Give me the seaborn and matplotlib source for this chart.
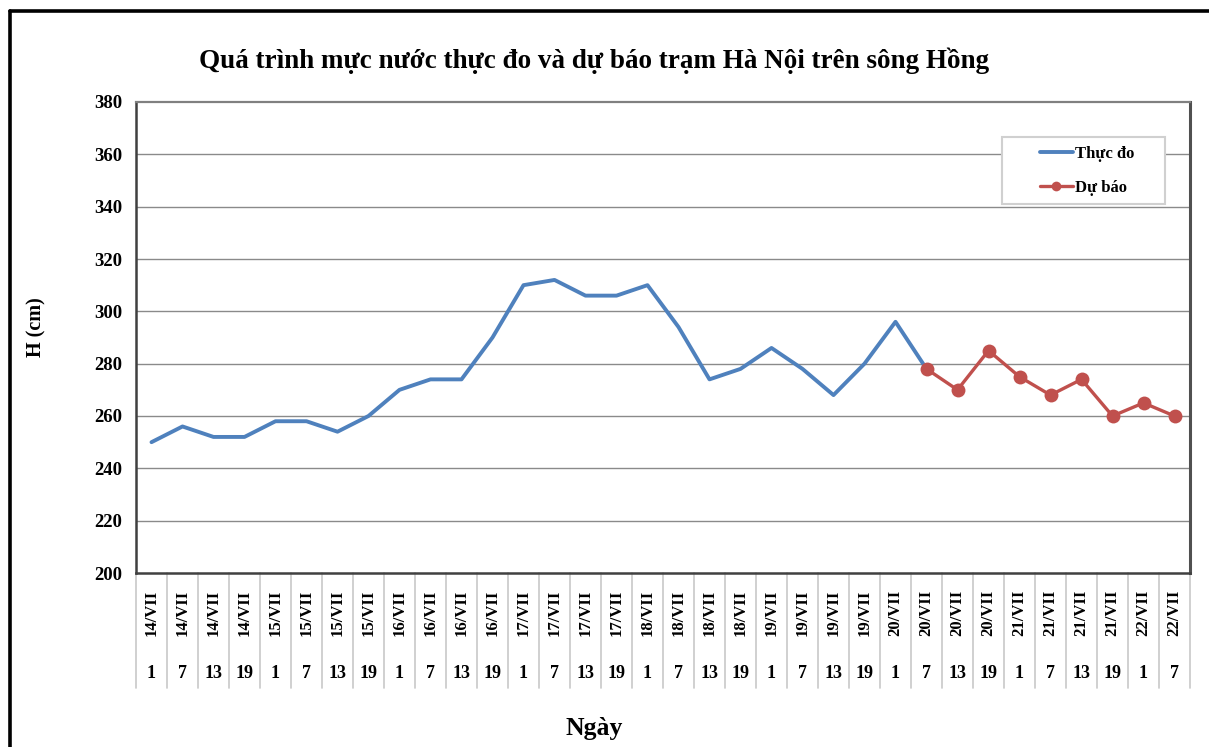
import matplotlib
matplotlib.use("Agg")
import matplotlib.pyplot as plt
import matplotlib.transforms as mtransforms
from matplotlib.lines import Line2D
from matplotlib.patches import Rectangle
import seaborn as sns
import pandas as pd
import numpy as np

# ---- data ----
days = ["14/VII"] * 4 + ["15/VII"] * 4 + ["16/VII"] * 4 + ["17/VII"] * 4 + \
       ["18/VII"] * 4 + ["19/VII"] * 4 + ["20/VII"] * 4 + ["21/VII"] * 4 + ["22/VII"] * 2
hours = ["1", "7", "13", "19"] * 8 + ["1", "7"]
observed = [250, 256, 252, 252, 258, 258, 254, 260, 270, 274, 274, 290,
            310, 312, 306, 306, 310, 294, 274, 278, 286, 278, 268, 280,
            296, 278]
forecast = [278, 270, 285, 275, 268, 274, 260, 265, 260]
forecast_start = 25

title = "Quá trình mực nước thực đo và dự báo trạm Hà Nội trên sông Hồng"
ylabel = "H (cm)"
xlabel = "Ngày"
yticks = list(range(200, 381, 20))

sns.set_theme(style="white")
plt.rcParams["font.family"] = ["Liberation Serif", "DejaVu Serif"]
plt.rcParams["font.weight"] = "bold"
plt.rcParams["text.color"] = "black"
plt.rcParams["ytick.color"] = "black"

W, H = 1209, 747
fig = plt.figure(figsize=(W / 100, H / 100), dpi=100)
fig.patch.set_facecolor("white")
L, R, T, B = 136, 1190, 102, 573
ax = fig.add_axes([L / W, 1 - B / H, (R - L) / W, (B - T) / H])

df_obs = pd.DataFrame({"x": np.arange(len(observed)), "y": observed})
df_fc = pd.DataFrame({"x": np.arange(forecast_start, forecast_start + len(forecast)), "y": forecast})

blue = "#4F81BD"
red = "#C0504D"
sns.lineplot(data=df_obs, x="x", y="y", ax=ax, color=blue, lw=2.8, zorder=3)
sns.lineplot(data=df_fc, x="x", y="y", ax=ax, color=red, lw=2.4, marker="o",
             markersize=10, markeredgewidth=0, zorder=4)

n = len(days)
ax.set_xlim(-0.5, n - 0.5)
ax.set_ylim(200, 380)
ax.set_yticks(yticks)
ax.set_yticklabels([str(v) for v in yticks], fontsize=13.5, fontweight="bold", color="black")
ax.tick_params(axis="y", length=0, pad=10)
ax.set_xticks([])
ax.set_xlabel("")
ax.set_ylabel("")
for v in yticks[1:-1]:
    ax.axhline(v, color="#8a8a8a", lw=1.0, zorder=1)

for s in ["left", "bottom"]:
    ax.spines[s].set_color("#404040")
    ax.spines[s].set_linewidth(1.8)
ax.spines["top"].set_color("#808080")
ax.spines["top"].set_linewidth(1.6)
ax.spines["right"].set_color("#505050")
ax.spines["right"].set_linewidth(2.2)

# category axis labels (two-level)
trans = mtransforms.blended_transform_factory(ax.transData, ax.transAxes)
sep_bottom = (B - 688) / (B - T)
for k in range(n + 1):
    ax.plot([k - 0.5, k - 0.5], [0, sep_bottom], transform=trans, color="#c8c8c8",
            lw=1.2, clip_on=False, zorder=0)
day_y = (B - 613) / (B - T)
hour_y = (B - 673) / (B - T)
for i in range(n):
    ax.text(i, day_y, days[i], transform=trans, rotation=90, ha="center", va="center",
            fontsize=12, fontweight="bold", color="black")
    ax.text(i, hour_y, hours[i], transform=trans, ha="center", va="center",
            fontsize=13, fontweight="bold", color="black")

fig.text(594 / W, 1 - 61 / H, title, ha="center", va="center", fontsize=19.5,
         fontweight="bold", color="black")
fig.text(36 / W, 1 - 327 / H, ylabel, ha="center", va="center", rotation=90,
         fontsize=14.5, fontweight="bold", color="black")
fig.text(594 / W, 1 - 729 / H, xlabel, ha="center", va="center", fontsize=18.5,
         fontweight="bold", color="black")

# legend: frame drawn separately to mimic the wide spreadsheet legend box
fig.add_artist(Rectangle((1002 / W, 1 - 204 / H), 163 / W, 67 / H, transform=fig.transFigure,
                         facecolor="white", edgecolor="#d0d0d0", lw=1.5, zorder=9))
handles = [Line2D([], [], color=blue, lw=2.8),
           Line2D([], [], color=red, lw=2.4, marker="o", markersize=7, markeredgewidth=0)]
leg = fig.legend(handles, ["Thực đo", "Dự báo"], loc="upper left",
                 bbox_to_anchor=(1040 / W, 1 - 146 / H), frameon=False,
                 prop={"size": 12, "weight": "bold"},
                 handlelength=1.95, handletextpad=0.15, labelspacing=1.05,
                 borderpad=0, borderaxespad=0)
leg.set_zorder(10)

# outer chart frame
fig.add_artist(Line2D([10 / W, 10 / W], [1 - 11 / H, -0.01], transform=fig.transFigure,
                      color="black", lw=2.6))
fig.add_artist(Line2D([10 / W, 1.01], [1 - 11 / H, 1 - 11 / H], transform=fig.transFigure,
                      color="black", lw=2.6))

fig.savefig("out.png", dpi=100)
